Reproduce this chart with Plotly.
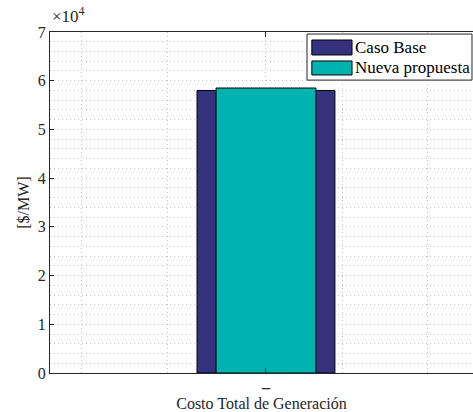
import plotly.graph_objects as go

# ---- data ----
category_pos = [1.0]
category_labels = ["<b>–</b>"]
series_names = ["Caso Base", "Nueva propuesta"]
caso_base = [58000]
nueva_propuesta = [58500]
y_tick_vals = [0, 10000, 20000, 30000, 40000, 50000, 60000, 70000]
y_tick_text = ["0", "1", "2", "3", "4", "5", "6", "7"]
x_minor_grid = [0.565, 0.768, 1.180, 1.383]

colors = ["#35327d", "#00b3b0"]
font_fam = "Liberation Serif"
axis_col = "#262626"
grid_col = "#c4c4c4"
grid_dash = "1px,3px"

fig = go.Figure()
fig.add_trace(go.Bar(x=category_pos, y=caso_base, width=0.326, name=series_names[0],
                     marker=dict(color=colors[0], line=dict(color="black", width=1)),
                     showlegend=False))
fig.add_trace(go.Bar(x=category_pos, y=nueva_propuesta, width=0.236, name=series_names[1],
                     marker=dict(color=colors[1], line=dict(color="black", width=1)),
                     showlegend=False))

# manual legend (MATLAB style wide patches)
shapes = [dict(type="rect", xref="paper", yref="paper", x0=0.6076, x1=0.9976, y0=0.859, y1=0.994,
               line=dict(color=axis_col, width=1), fillcolor="white", layer="above")]
patch_y = [(0.9326, 0.9765), (0.874, 0.915)]
annotations = []
for name, col, (y0, y1) in zip(series_names, colors, patch_y):
    shapes.append(dict(type="rect", xref="paper", yref="paper", x0=0.619, x1=0.714, y0=y0, y1=y1,
                       line=dict(color="black", width=1), fillcolor=col, layer="above"))
    annotations.append(dict(xref="paper", yref="paper", x=0.716, y=(y0 + y1) / 2, text=name,
                            showarrow=False, xanchor="left", yanchor="middle",
                            font=dict(family=font_fam, size=17, color="black")))

annotations.append(dict(xref="paper", yref="paper", x=0.0, y=1.0, yshift=4, text="×10<sup>4</sup>",
                        showarrow=False, xanchor="left", yanchor="bottom",
                        font=dict(family=font_fam, size=17, color=axis_col)))

fig.update_layout(
    width=473, height=412,
    margin=dict(l=50, r=0, t=32, b=39),
    paper_bgcolor="white", plot_bgcolor="white",
    barmode="overlay",
    font=dict(family=font_fam, size=16, color=axis_col),
    shapes=shapes, annotations=annotations,
    xaxis=dict(range=[0.4894, 1.4894], tickvals=category_pos, ticktext=category_labels,
               ticks="inside", ticklen=5, tickcolor=axis_col,
               showline=True, linecolor=axis_col, linewidth=1, mirror="ticks",
               showgrid=True, gridcolor=grid_col, griddash=grid_dash, gridwidth=1,
               minor=dict(tickvals=x_minor_grid, showgrid=True, gridcolor=grid_col, griddash=grid_dash, ticks=""),
               title=dict(text="Costo Total de Generación", font=dict(family=font_fam, size=16, color=axis_col), standoff=4),
               zeroline=False, tickfont=dict(family=font_fam, size=16, color=axis_col)),
    yaxis=dict(range=[0, 70000], tickvals=y_tick_vals, ticktext=y_tick_text,
               ticks="inside", ticklen=4, tickcolor=axis_col,
               showline=True, linecolor=axis_col, linewidth=1,
               showgrid=True, gridcolor=grid_col, griddash=grid_dash, gridwidth=1,
               minor=dict(dtick=2000, showgrid=True, gridcolor=grid_col, griddash=grid_dash, ticks=""),
               title=dict(text="[$/MW]", font=dict(family=font_fam, size=16, color=axis_col), standoff=4),
               zeroline=False, tickfont=dict(family=font_fam, size=16, color=axis_col)),
)

fig.write_html("out.html")
